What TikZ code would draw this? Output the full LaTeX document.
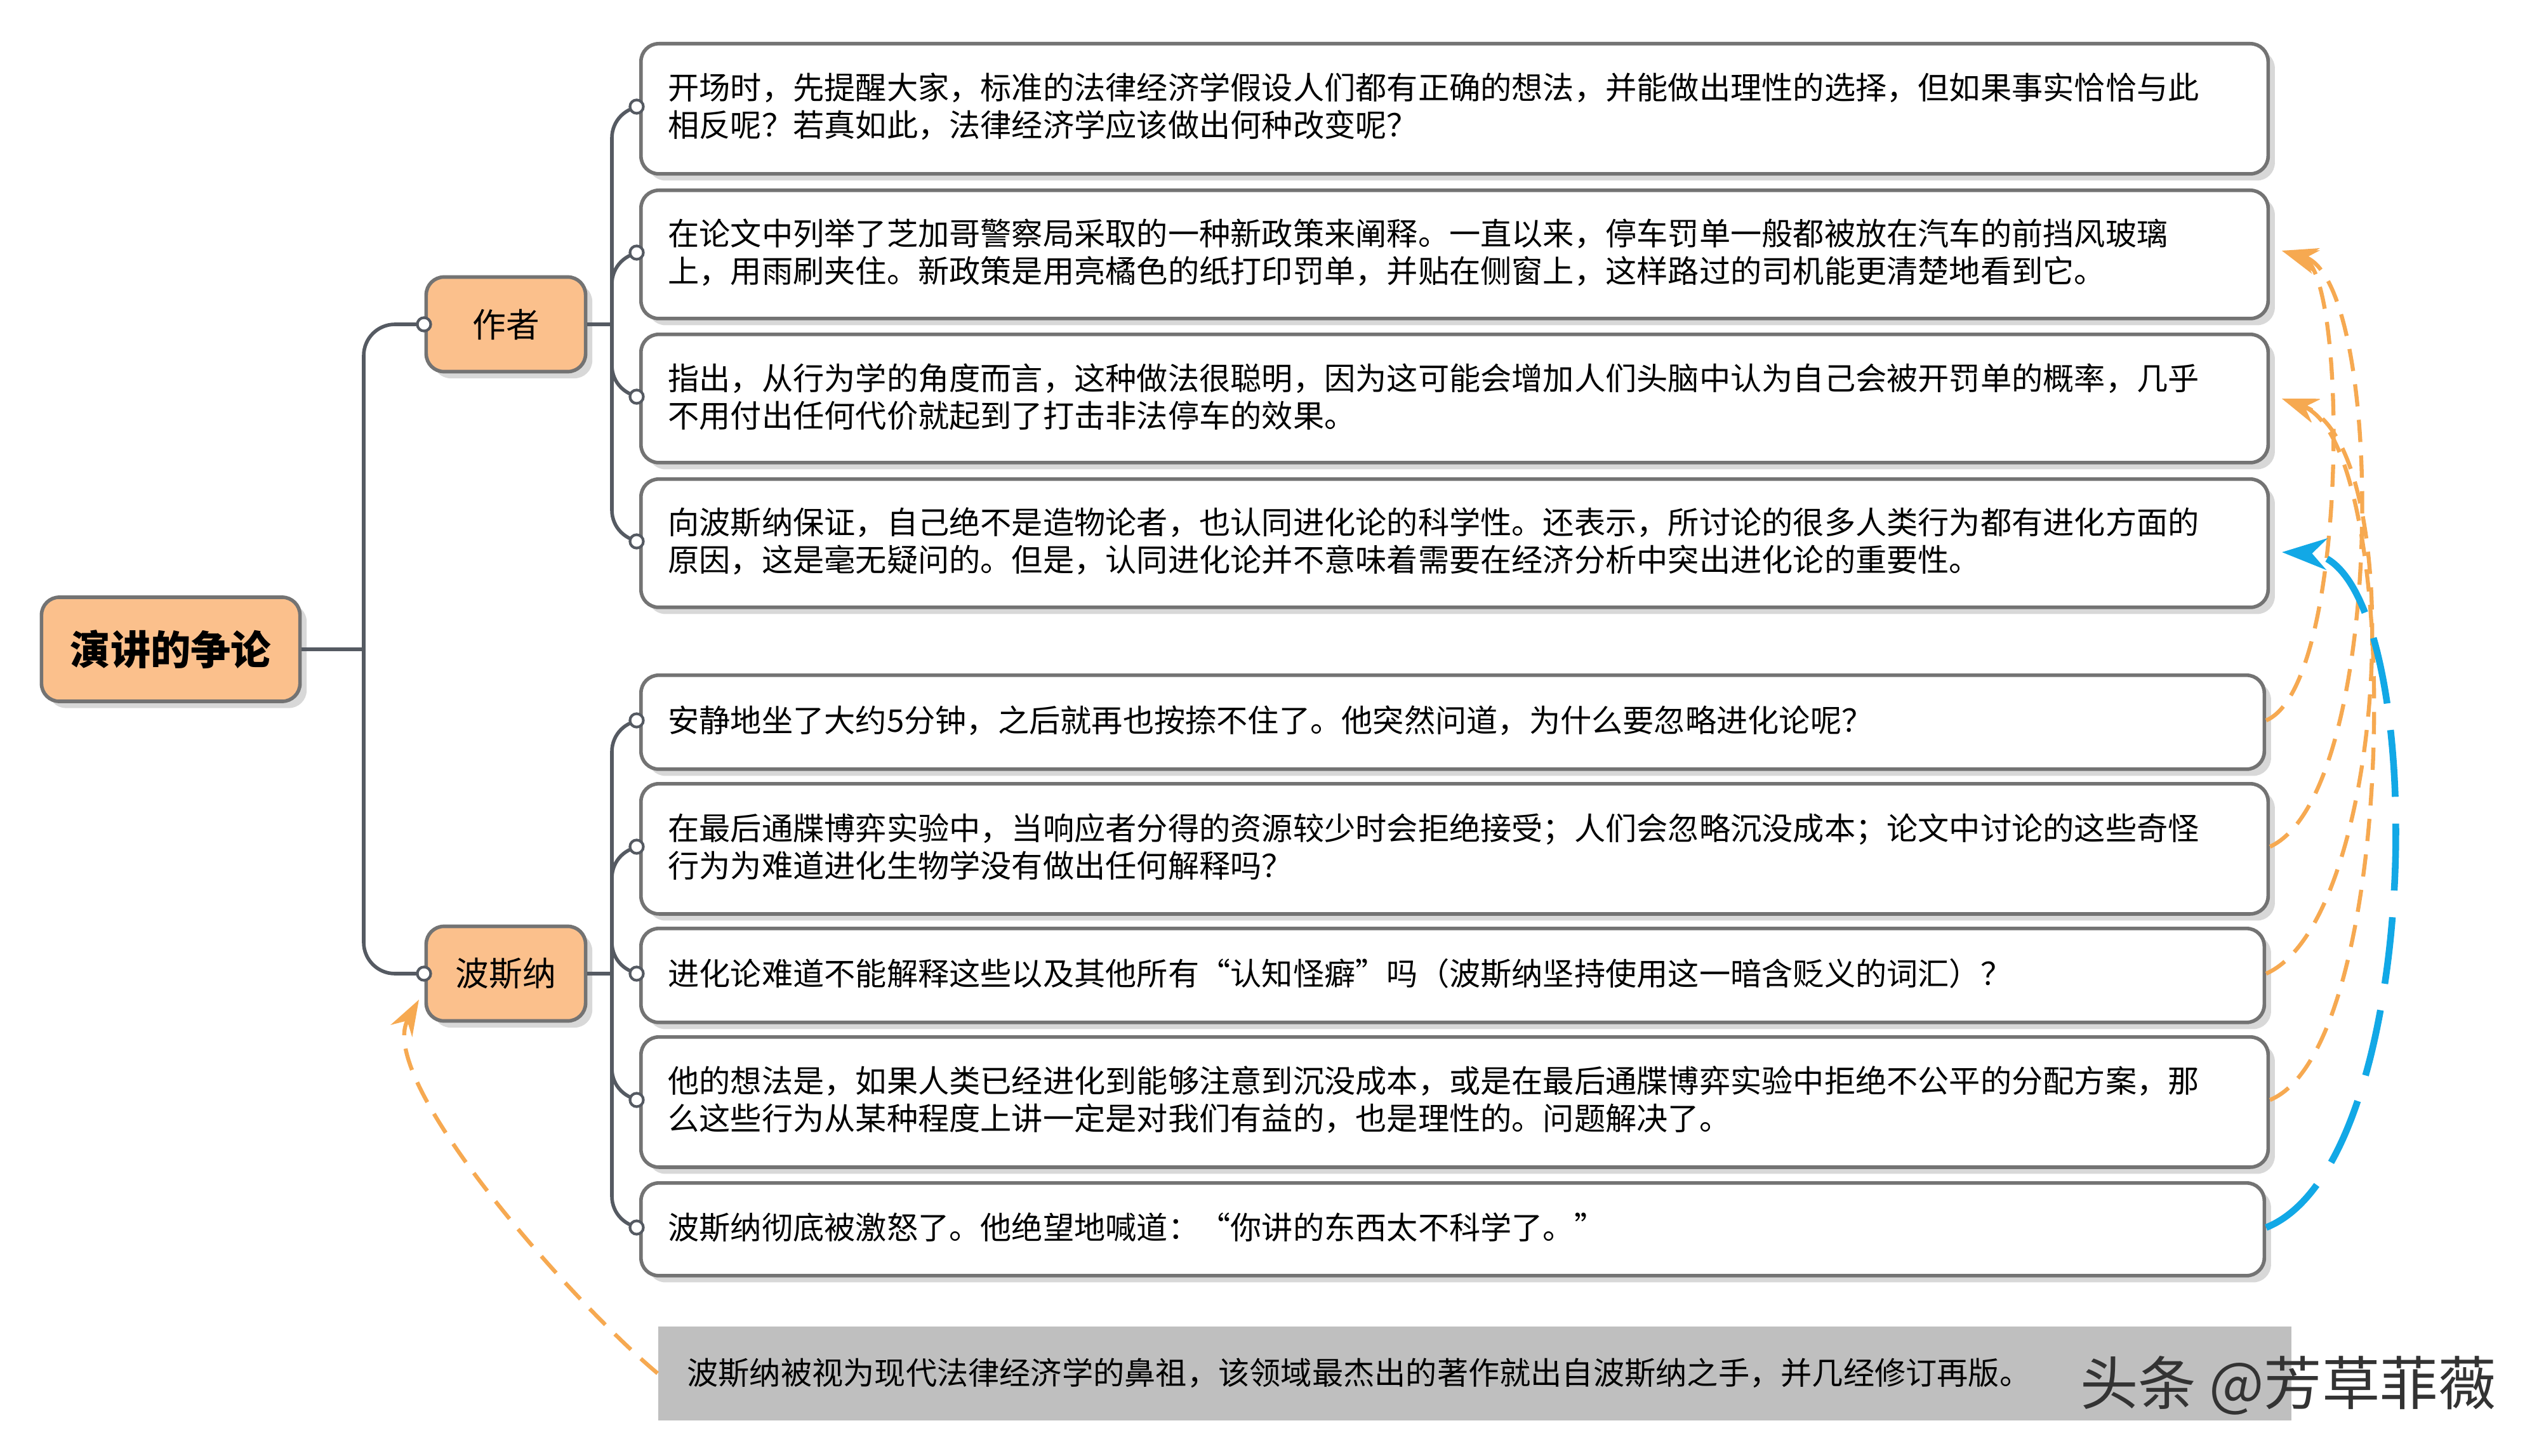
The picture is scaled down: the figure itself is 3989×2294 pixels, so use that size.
\documentclass[tikz,border=0pt]{standalone}
\usepackage{fontspec}
\setmainfont{Noto Sans CJK SC}
\usetikzlibrary{arrows.meta,shadows}
\definecolor{org}{HTML}{FBC08C}
\definecolor{lnk}{HTML}{555A62}
\definecolor{oar}{HTML}{F6A951}
\definecolor{bar}{HTML}{12A8E6}
\tikzset{
 wbox/.style={draw=gray!90!black,line width=1.6pt,rounded corners=8pt,fill=white,
   drop shadow={shadow xshift=3pt,shadow yshift=-3pt,fill=gray!60},
   inner xsep=0.46cm,inner ysep=0pt,text width=24.7cm,align=left,
   font=\fontsize{14pt}{16.8pt}\selectfont,anchor=north west},
 obox/.style={draw=gray!90!black,line width=1.6pt,rounded corners=8pt,fill=org,
   drop shadow={shadow xshift=3pt,shadow yshift=-3pt,fill=gray!60},
   minimum width=2.51cm,minimum height=1.49cm,font=\fontsize{15pt}{18pt}\selectfont},
 lk/.style={draw=lnk,line width=1.6pt,rounded corners=14pt},
 dot/.style={circle,draw=lnk,fill=white,line width=1.2pt,inner sep=0pt,minimum size=6pt},
 oarr/.style={draw=oar,line width=1.8pt,dash pattern=on 10pt off 6pt,-{Stealth[length=16pt,width=11pt]}},
 barr/.style={draw=bar,line width=3pt,dash pattern=on 30pt off 12pt,-{Stealth[length=20pt,width=14pt]}},
}
\begin{document}
\begin{tikzpicture}[x=0.01cm,y=-0.01cm]
\useasboundingbox (0,0) rectangle (3989,2294);
\node[obox,minimum width=4.07cm,minimum height=1.64cm,font=\fontsize{18pt}{22pt}\selectfont\bfseries] (root) at (269,1023) {演讲的争论};
\node[obox] (au) at (797,511) {作者};
\node[obox] (po) at (797,1534) {波斯纳};
\node[wbox,minimum height=2.05cm] (b1) at (1007,66) {};
\node[wbox,minimum height=2.02cm] (b2) at (1007,297) {};
\node[wbox,minimum height=2.02cm] (b3) at (1007,524) {};
\node[wbox,minimum height=2.02cm] (b4) at (1007,752) {};
\node[wbox,minimum height=1.48cm,text width=24.64cm] (b5) at (1007,1061) {};
\node[wbox,minimum height=2.05cm] (b6) at (1007,1232) {};
\node[wbox,minimum height=1.48cm,text width=24.64cm] (b7) at (1007,1460) {};
\node[wbox,minimum height=2.05cm] (b8) at (1007,1631) {};
\node[wbox,minimum height=1.46cm,text width=24.64cm] (b9) at (1007,1861) {};
\node[draw=none,fill=gray!50,minimum width=25.72cm,minimum height=1.48cm,anchor=north west] (g) at (1036,2089) {};
\tikzset{tx/.style={anchor=west,align=left,font=\fontsize{14pt}{16.8pt}\selectfont}}
\node[tx] (t1) at (1040,168) {开场时，先提醒大家，标准的法律经济学假设人们都有正确的想法，并能做出理性的选择，但如果事实恰恰与此\\相反呢？若真如此，法律经济学应该做出何种改变呢？};
\node[tx] (t2) at (1040,398) {在论文中列举了芝加哥警察局采取的一种新政策来阐释。一直以来，停车罚单一般都被放在汽车的前挡风玻璃\\上，用雨刷夹住。新政策是用亮橘色的纸打印罚单，并贴在侧窗上，这样路过的司机能更清楚地看到它。};
\node[tx] (t3) at (1040,625) {指出，从行为学的角度而言，这种做法很聪明，因为这可能会增加人们头脑中认为自己会被开罚单的概率，几乎\\不用付出任何代价就起到了打击非法停车的效果。};
\node[tx] (t4) at (1040,853) {向波斯纳保证，自己绝不是造物论者，也认同进化论的科学性。还表示，所讨论的很多人类行为都有进化方面的\\原因，这是毫无疑问的。但是，认同进化论并不意味着需要在经济分析中突出进化论的重要性。};
\node[tx] (t5) at (1040,1135) {安静地坐了大约5分钟，之后就再也按捺不住了。他突然问道，为什么要忽略进化论呢？};
\node[tx] (t6) at (1040,1334) {在最后通牒博弈实验中，当响应者分得的资源较少时会拒绝接受；人们会忽略沉没成本；论文中讨论的这些奇怪\\行为为难道进化生物学没有做出任何解释吗？};
\node[tx] (t7) at (1040,1534) {进化论难道不能解释这些以及其他所有“认知怪癖”吗（波斯纳坚持使用这一暗含贬义的词汇）？};
\node[tx] (t8) at (1040,1733) {他的想法是，如果人类已经进化到能够注意到沉没成本，或是在最后通牒博弈实验中拒绝不公平的分配方案，那\\么这些行为从某种程度上讲一定是对我们有益的，也是理性的。问题解决了。};
\node[tx] (t9) at (1040,1934) {波斯纳彻底被激怒了。他绝望地喊道：“你讲的东西太不科学了。”};
\node[tx] (tg) at (1070,2163) {波斯纳被视为现代法律经济学的鼻祖，该领域最杰出的著作就出自波斯纳之手，并几经修订再版。};
\node[anchor=east,font=\fontsize{26pt}{28pt}\selectfont,text=black!80,draw=none] (wm) at (3945,2183) {头条 @芳草菲薇};
\draw[lk] (root.east) -- (573,1023);
\draw[lk] (au.west) -| (573,1023) |- (po.west);
\draw[lk] (au.east) -- (964,511);
\draw[lk] (po.east) -- (964,1534);
\foreach \b/\y in {b1/168,b2/398,b3/625,b4/853}{\draw[lk] (964,511) |- (\b.west |- 0,\y);}
\foreach \b/\y in {b5/1135,b6/1334,b7/1534,b8/1733,b9/1934}{\draw[lk] (964,1534) |- (\b.west |- 0,\y);}
\foreach \y in {168,398,625,853,1135,1334,1534,1733,1934}{\node[dot] at (1003,\y) {};}
\node[dot] at (668,511) {};
\node[dot] at (668,1534) {};
\draw[oarr] (b5.east |- 0,1135) .. controls (3700,1080) and (3700,430) .. (3595,395);
\draw[oarr] (b6.east |- 0,1334) .. controls (3760,1250) and (3760,440) .. (3595,395);
\draw[oarr] (b7.east |- 0,1534) .. controls (3760,1450) and (3800,700) .. (3595,628);
\draw[oarr] (b8.east |- 0,1733) .. controls (3780,1650) and (3790,700) .. (3595,628);
\draw[barr] (b9.east |- 0,1934) .. controls (3830,1830) and (3830,880) .. (3595,870);
\draw[oarr] (g.west) .. controls (900,2050) and (590,1700) .. (660,1575);
\end{tikzpicture}
\end{document}
